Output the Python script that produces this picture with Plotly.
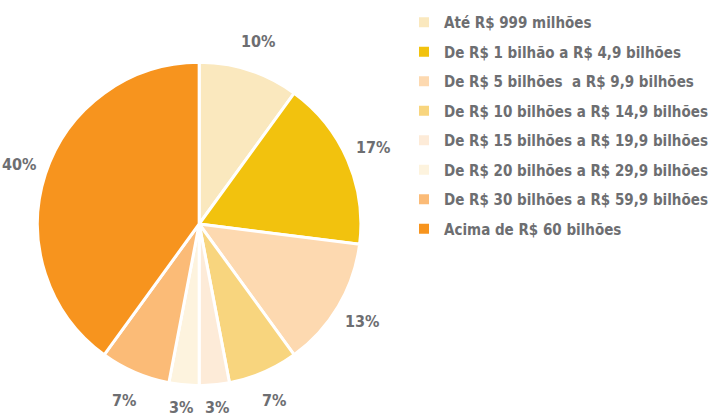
import math
import plotly.graph_objects as go

# Faixas de faturamento e participação (%)
labels = [
    "Até R$ 999 milhões",
    "De R$ 1 bilhão a R$ 4,9 bilhões",
    "De R$ 5 bilhões  a R$ 9,9 bilhões",
    "De R$ 10 bilhões a R$ 14,9 bilhões",
    "De R$ 15 bilhões a R$ 19,9 bilhões",
    "De R$ 20 bilhões a R$ 29,9 bilhões",
    "De R$ 30 bilhões a R$ 59,9 bilhões",
    "Acima de R$ 60 bilhões",
]
values = [10, 17, 13, 7, 3, 3, 7, 40]
colors = ["#FAE8BE", "#F2C20E", "#FDD9B0", "#F8D57E",
          "#FDEBD8", "#FDF3DE", "#FBBB77", "#F7941E"]

FONT = "Liberation Sans Narrow, DejaVu Sans Condensed, Roboto Condensed, Arial Narrow, sans-serif"
GREY = "#6D6E71"
W, H = 713, 416

# pie geometry in pixels
cx, cy, r = 202, 224, 164
dom_x = [(cx - r) / W, (cx + r) / W]
dom_y = [(H - cy - r) / H, (H - cy + r) / H]

fig = go.Figure()
fig.add_trace(go.Pie(
    labels=labels, values=values, sort=False, direction="clockwise",
    rotation=0, textinfo="none", hoverinfo="label+percent",
    marker=dict(colors=colors, line=dict(color="white", width=3)),
    domain=dict(x=dom_x, y=dom_y), showlegend=False,
))

# legend entries, one group each so the rows get extra spacing
for lab, col in zip(labels, colors):
    fig.add_trace(go.Scatter(
        x=[None], y=[None], mode="markers", name=lab, legendgroup=lab,
        marker=dict(symbol="square", size=10, color=col),
    ))

# percentage labels around the pie
total = sum(values)
cum = 0
R = 192
for v in values:
    mid = (cum + v / 2) / total * 2 * math.pi
    cum += v
    px = cx + R * math.sin(mid)
    py = min(cy - R * math.cos(mid), H - 9)  # keep bottom labels on the page
    fig.add_annotation(
        x=px / W, y=1 - py / H, xref="paper", yref="paper",
        xanchor="center", yanchor="middle",
        text=f"<b>{round(v / total * 100)}%</b>", showarrow=False,
        font=dict(family=FONT, size=16, color=GREY),
    )

fig.update_layout(
    width=W, height=H, margin=dict(l=0, r=0, t=0, b=0),
    paper_bgcolor="white", plot_bgcolor="white",
    xaxis=dict(visible=False), yaxis=dict(visible=False),
    font=dict(family=FONT, color=GREY),
    legend=dict(
        x=(450 - 40) / W, xanchor="left", y=1 - 6 / H, yanchor="top",
        font=dict(family=FONT, size=15, color=GREY, weight="bold"),
        tracegroupgap=7, bgcolor="rgba(0,0,0,0)",
    ),
)

fig.write_html("out.html")
